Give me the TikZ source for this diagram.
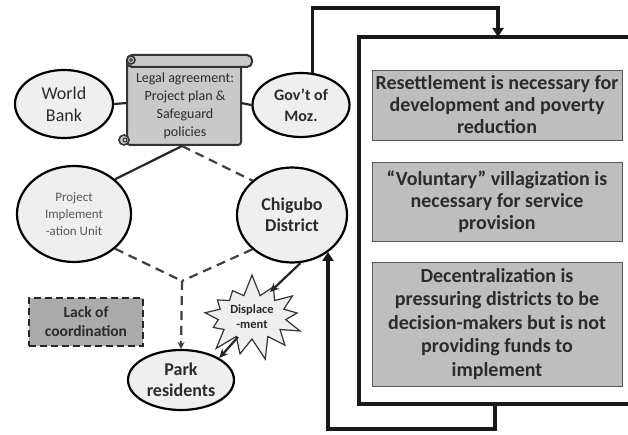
\documentclass[tikz,border=0pt]{standalone}
\usepackage{fontspec}
\setmainfont{Carlito}
\usetikzlibrary{shapes.geometric,shapes.symbols,arrows.meta}
\definecolor{ellfill}{HTML}{EFEFEF}
\definecolor{scrollfill}{HTML}{C9C9C9}
\definecolor{boxfill}{HTML}{BEBEBE}
\definecolor{txt}{HTML}{2B2B2B}
\tikzset{
  ell/.style={ellipse, draw=black, line width=2.2pt, fill=ellfill, inner sep=0pt, align=center, text=txt},
  claim/.style={draw=gray!70!black, line width=0.8pt, fill=boxfill, align=center, text=txt,
    font=\fontsize{20}{22}\selectfont\bfseries, minimum width=250pt, inner sep=0pt},
  solidlink/.style={line width=2.2pt, draw=black!85},
  dashlink/.style={line width=2.2pt, draw=black!75, dashed, dash pattern=on 9pt off 6pt},
  loop/.style={line width=3.5pt, draw=black!90},
}
\begin{document}
\begin{tikzpicture}[x=1pt,y=-1pt]
\useasboundingbox (0,0) rectangle (628,435);
\fill[white] (0,0) rectangle (628,435);
% big frame (right side off the picture)
\draw[loop] (640,37) -- (359,37) -- (359,404) -- (640,404);
% scroll
\filldraw[fill=scrollfill, draw=black!80, line width=2pt, rounded corners=3pt] (127,60) rectangle (241,145);
\filldraw[fill=scrollfill, draw=black!80, line width=2pt, rounded corners=5pt] (127,55) rectangle (252,67);
\filldraw[fill=scrollfill, draw=black!80, line width=1.6pt] (131,60) circle (4pt);
\draw[black!80, line width=1pt] (131,60) circle (1.5pt);
\filldraw[fill=scrollfill, draw=black!80, line width=1.6pt] (124,140) circle (5pt);
\draw[black!80, line width=1pt] (125,140) circle (2pt);
\node[align=center, text=txt, font=\fontsize{14}{18}\selectfont] (legal) at (185,106)
  {Legal agreement:\\Project plan \&\\Safeguard\\policies};
\coordinate (legalL) at (127,103);
\coordinate (legalR) at (241,103);
\coordinate (legalB) at (182,146);
% ellipses
\node[ell, minimum width=98pt, minimum height=68pt, font=\fontsize{18}{22}\selectfont] (wb) at (64,104) {World\\Bank};
\node[ell, minimum width=97pt, minimum height=64pt, font=\fontsize{16}{21}\selectfont\bfseries] (gov) at (301,105) {Gov’t of\\Moz.};
\node[ell, minimum width=114pt, minimum height=96pt, font=\fontsize{13}{17}\selectfont, text=black!65] (piu) at (74,214) {Project\\Implement\\-ation Unit};
\node[ell, minimum width=110pt, minimum height=95pt, font=\fontsize{18}{21}\selectfont\bfseries] (chi) at (292,215) {Chigubo\\District};
\node[ell, minimum width=106pt, minimum height=60pt, font=\fontsize{18}{21}\selectfont\bfseries] (park) at (181,380) {Park\\residents};
% lack of coordination
\node[draw=black!85, line width=2.2pt, dashed, dash pattern=on 7pt off 4pt, fill=boxfill!90!black, align=center, text=txt,
  font=\fontsize{15.5}{19}\selectfont\bfseries, minimum width=114pt, minimum height=48pt] (lack) at (86,322) {Lack of\\coordination};
% displacement
\node[starburst, starburst points=13, starburst point height=22pt, random starburst=7,
  draw=black!80, line width=1.2pt, fill=ellfill, align=center, text=txt,
  font=\fontsize{12.5}{15}\selectfont\bfseries, minimum width=112pt, minimum height=88pt, inner sep=0pt] (disp) at (252,317) {Displace\\-ment};
% claims
\node[claim, minimum height=70pt] (c1) at (497,105) {Resettlement is necessary for\\development and poverty\\reduction};
\node[claim, minimum height=79pt] (c2) at (497,202) {“Voluntary” villagization is\\necessary for service\\provision};
\node[claim, minimum height=124pt, font=\fontsize{20}{23.5}\selectfont\bfseries] (c3) at (497,324) {Decentralization is\\pressuring districts to be\\decision-makers but is not\\providing funds to\\implement};
% connectors
\draw[solidlink] (wb.east) -- (legalL);
\draw[solidlink] (legalR) -- (gov.west);
\draw[solidlink] (legalB) -- (piu.north east);
\draw[dashlink] (legalB) -- (chi.north west);
\coordinate (join) at (182,281);
\draw[dashlink] (piu.south east) -- (join);
\draw[dashlink] (chi.south west) -- (join);
\draw[dashlink, -{Stealth[length=7pt,width=7pt]}] (join) -- (park.north);
\draw[solidlink, -{Stealth[length=9pt,width=8pt]}] (chi.-80) -- (270,292);
\draw[solidlink, -{Stealth[length=9pt,width=8pt]}] (238,337) -- (park.north east);
% feedback loop
\coordinate (tr) at (498,8);
\coordinate (topin) at (498,37);
\draw[loop, -{Triangle[length=9pt,width=11pt]}] (gov.70) |- (tr) -- (topin);
\coordinate (bo) at (495,404);
\coordinate (bl) at (328,429);
\draw[loop, -{Triangle[length=9pt,width=11pt]}] (bo) |- (bl) -- (328,252);
\end{tikzpicture}
\end{document}
